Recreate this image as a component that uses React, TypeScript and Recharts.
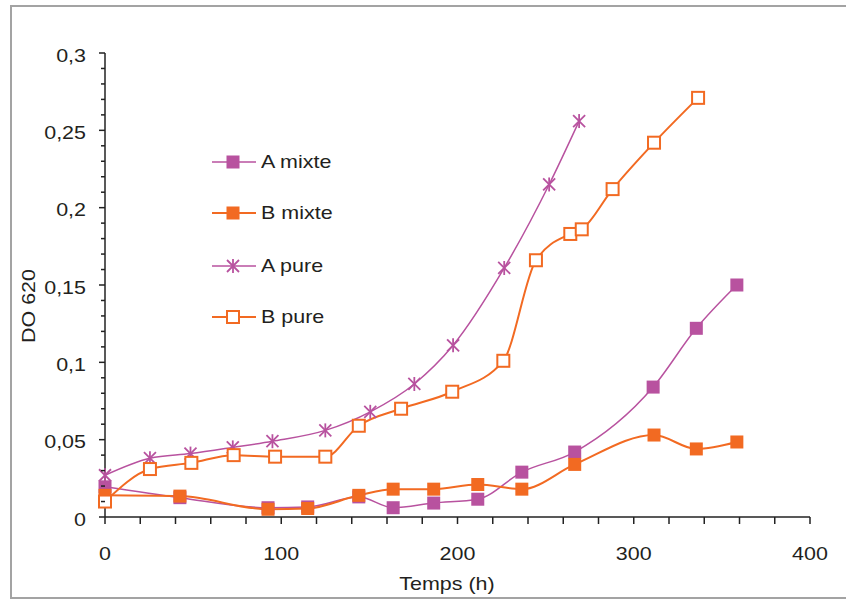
import React from "react";
import { LineChart, Line, XAxis, YAxis } from "recharts";

const aMixteX = [0, 42.5, 92.5, 115, 144, 163.5, 186.5, 211.5, 236.5, 266.5, 311, 335.5, 358.5];
const aMixteY = [0.0195, 0.0125, 0.006, 0.0065, 0.013, 0.006, 0.009, 0.0115, 0.029, 0.042, 0.084, 0.122, 0.15];

const bMixteX = [0, 42.5, 92.5, 115, 144, 163.5, 186.5, 211.5, 236.5, 266.5, 311.5, 335.5, 358.5];
const bMixteY = [0.014, 0.0135, 0.005, 0.0055, 0.014, 0.018, 0.018, 0.021, 0.018, 0.034, 0.053, 0.044, 0.0485];

const aPureX = [0, 25.5, 48.5, 72.5, 95, 125, 150.5, 175.5, 197.5, 226.5, 252, 269];
const aPureY = [0.027, 0.038, 0.041, 0.045, 0.049, 0.056, 0.068, 0.086, 0.111, 0.161, 0.215, 0.256];

const bPureX = [0, 25.5, 49, 73, 96.5, 125, 144, 168, 197, 226, 244.5, 264, 270.5, 288, 311.5, 336.5];
const bPureY = [0.01, 0.031, 0.035, 0.04, 0.039, 0.039, 0.059, 0.07, 0.081, 0.101, 0.166, 0.183, 0.186, 0.212, 0.242, 0.271];

const seriesNames = ["A mixte", "B mixte", "A pure", "B pure"];
const xTicks = [0, 20, 40, 60, 80, 100, 120, 140, 160, 180, 200, 220, 240, 260, 280, 300, 320, 340, 360, 380, 400];
const yTicks = Array.from({ length: 31 }, (_, i) => i / 100);

const MAGENTA = "#B8529F";
const ORANGE = "#F26A22";
const FONT = "'Liberation Sans', Arial, sans-serif";
const TEXT = "#231F20";
const FS = 19;
const SX = 1.13;

const toRows = (xs: number[], ys: number[]) => xs.map((x, i) => ({ x, y: ys[i] }));

const FilledSquare = (color: string) => (p: any) => (
  <rect key={`fs-${p.index}`} x={p.cx - 6.5} y={p.cy - 6.5} width={13} height={13} fill={color} stroke="none" />
);
const OpenSquare = (color: string) => (p: any) => (
  <rect key={`os-${p.index}`} x={p.cx - 6} y={p.cy - 6} width={12} height={12} fill="#fff" stroke={color} strokeWidth={2} />
);
const Star = (color: string) => (p: any) => (
  <g key={`st-${p.index}`} stroke={color} strokeWidth={1.8}>
    <line x1={p.cx} y1={p.cy - 7} x2={p.cx} y2={p.cy + 7} />
    <line x1={p.cx - 6} y1={p.cy - 6} x2={p.cx + 6} y2={p.cy + 6} />
    <line x1={p.cx - 6} y1={p.cy + 6} x2={p.cx + 6} y2={p.cy - 6} />
  </g>
);

const fmt = (v: number) => (Math.round(v * 100) / 100).toString().replace(".", ",");

const SText = ({ x, y, anchor, rotate, children }: any) => (
  <text
    transform={`translate(${x},${y})${rotate ? ` rotate(${rotate})` : ""} scale(${SX},1)`}
    x={0}
    y={0}
    textAnchor={anchor}
    fontSize={FS}
    fontFamily={FONT}
    fill={TEXT}
  >
    {children}
  </text>
);

const YTick = (props: any) => {
  const { x, y, payload } = props;
  const v = payload.value;
  const major = Math.round(v * 100) % 5 === 0;
  return (
    <g>
      <line x1={x - (major ? 6 : 4)} x2={x} y1={y} y2={y} stroke="#222" strokeWidth={1.5} />
      {major && (
        <SText x={x - 19} y={y + 8.5} anchor="end">
          {fmt(v)}
        </SText>
      )}
    </g>
  );
};

const XTick = (props: any) => {
  const { x, y, payload } = props;
  const v = payload.value;
  const major = v % 100 === 0;
  return (
    <g>
      <line x1={x} x2={x} y1={y} y2={y + 7} stroke="#222" strokeWidth={1.5} />
      {major && (
        <SText x={x} y={y + 43} anchor="middle">
          {v}
        </SText>
      )}
    </g>
  );
};

const LegendMarker = ({ idx }: { idx: number }) => {
  const color = idx % 2 === 0 ? MAGENTA : ORANGE;
  const cx = 21, cy = 10;
  let m: any = null;
  if (idx === 0 || idx === 1) m = <rect x={cx - 6.5} y={cy - 6.5} width={13} height={13} fill={color} />;
  if (idx === 2)
    m = (
      <g stroke={color} strokeWidth={1.8}>
        <line x1={cx} y1={cy - 7} x2={cx} y2={cy + 7} />
        <line x1={cx - 6} y1={cy - 6} x2={cx + 6} y2={cy + 6} />
        <line x1={cx - 6} y1={cy + 6} x2={cx + 6} y2={cy - 6} />
      </g>
    );
  if (idx === 3) m = <rect x={cx - 6} y={cy - 6} width={12} height={12} fill="#fff" stroke={color} strokeWidth={2} />;
  return (
    <svg width={44} height={20} style={{ display: "block" }}>
      <line x1={0} x2={44} y1={cy} y2={cy} stroke={color} strokeWidth={idx % 2 === 0 ? 1.5 : 2} />
      {m}
    </svg>
  );
};

export default function App() {
  return (
    <div style={{ position: "absolute", left: 0, top: 0, width: 846, height: 602, background: "#fff", overflow: "hidden" }}>
      <div
        style={{
          position: "absolute",
          left: 10,
          top: 5,
          width: 850,
          height: 594,
          border: "2px solid #a3a3a3",
          boxSizing: "border-box",
        }}
      />
      <LineChart width={846} height={602} margin={{ top: 53, right: 36, bottom: 0, left: 0 }} style={{ position: "absolute", left: 0, top: 0 }}>
        <XAxis
          dataKey="x"
          type="number"
          domain={[0, 400]}
          ticks={xTicks}
          interval={0}
          tickSize={0}
          tickMargin={0}
          tickLine={false}
          tick={<XTick />}
          axisLine={{ stroke: "#222", strokeWidth: 1.5 }}
          height={85}
          label={{
            content: () => (
              <SText x={447} y={590} anchor="middle">
                Temps (h)
              </SText>
            ),
          }}
        />
        <YAxis
          type="number"
          domain={[0, 0.3]}
          ticks={yTicks}
          interval={0}
          width={105}
          tickSize={0}
          tickMargin={0}
          tickLine={false}
          tick={<YTick />}
          axisLine={{ stroke: "#222", strokeWidth: 1.5 }}
          label={{
            content: () => (
              <SText x={35} y={306} rotate={-90} anchor="middle">
                DO 620
              </SText>
            ),
          }}
        />
        <Line
          data={toRows(aMixteX, aMixteY)}
          dataKey="y"
          name={seriesNames[0]}
          type="monotone"
          stroke={MAGENTA}
          strokeWidth={1.5}
          dot={FilledSquare(MAGENTA)}
          activeDot={false}
          isAnimationActive={false}
        />
        <Line
          data={toRows(bMixteX, bMixteY)}
          dataKey="y"
          name={seriesNames[1]}
          type="monotone"
          stroke={ORANGE}
          strokeWidth={2}
          dot={FilledSquare(ORANGE)}
          activeDot={false}
          isAnimationActive={false}
        />
        <Line
          data={toRows(aPureX, aPureY)}
          dataKey="y"
          name={seriesNames[2]}
          type="monotone"
          stroke={MAGENTA}
          strokeWidth={1.5}
          dot={Star(MAGENTA)}
          activeDot={false}
          isAnimationActive={false}
        />
        <Line
          data={toRows(bPureX, bPureY)}
          dataKey="y"
          name={seriesNames[3]}
          type="monotone"
          stroke={ORANGE}
          strokeWidth={2}
          dot={OpenSquare(ORANGE)}
          activeDot={false}
          isAnimationActive={false}
        />
      </LineChart>
      <div style={{ position: "absolute", left: 212, top: 150 }}>
        {seriesNames.map((n, i) => (
          <div
            key={n}
            style={{
              position: "absolute",
              left: 0,
              top: [0, 51, 104, 155][i],
              display: "flex",
              alignItems: "center",
              whiteSpace: "nowrap",
              fontFamily: FONT,
              fontSize: FS,
              color: TEXT,
              height: 24,
            }}
          >
            <LegendMarker idx={i} />
            <span style={{ marginLeft: 5, display: "inline-block", transform: `scaleX(${SX})`, transformOrigin: "left center" }}>{n}</span>
          </div>
        ))}
      </div>
    </div>
  );
}
